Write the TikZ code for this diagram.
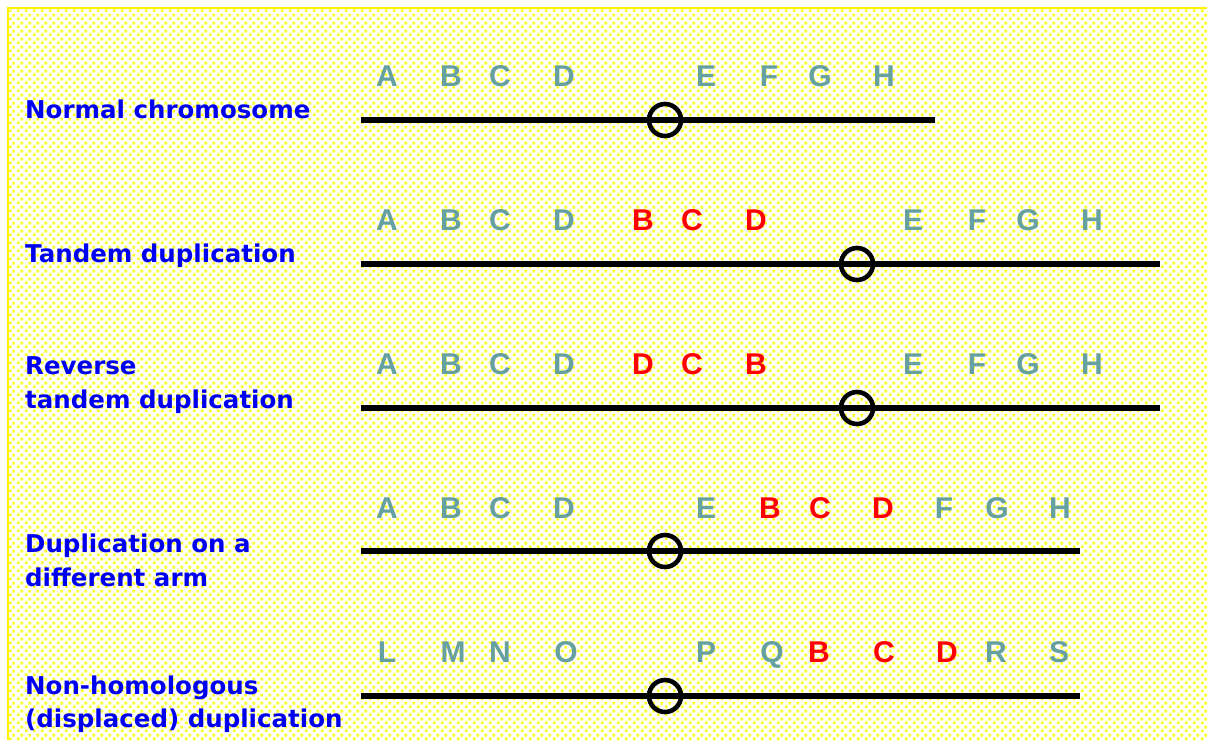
\documentclass[tikz,border=0pt]{standalone}
\usepackage{fontspec}
\usetikzlibrary{patterns}
\newfontfamily\rowfont{DejaVu Sans}
\newfontfamily\genefont{Liberation Sans}
\definecolor{genegray}{RGB}{102,160,160}
\definecolor{dupred}{RGB}{255,0,0}
\definecolor{rowblue}{RGB}{0,0,240}
\definecolor{dotyellow}{RGB}{255,255,40}
\pgfdeclarepatternformonly{paperdots}{\pgfqpoint{0pt}{0pt}}{\pgfqpoint{8pt}{8pt}}{\pgfqpoint{8pt}{8pt}}{
  \pgfpathrectangle{\pgfqpoint{1pt}{1pt}}{\pgfqpoint{3pt}{3pt}}
  \pgfpathrectangle{\pgfqpoint{5pt}{5pt}}{\pgfqpoint{3pt}{3pt}}
  \pgfusepath{fill}}
\tikzstyle{rowname}=[text=rowblue, font=\rowfont\bfseries\fontsize{24.5}{34}\selectfont, anchor=base west, inner sep=0pt]
\tikzstyle{gene}=[text=genegray, font=\genefont\bfseries\fontsize{30}{30}\selectfont, anchor=base, inner sep=0pt]
\tikzstyle{dup}=[gene, text=dupred]
\tikzstyle{arm}=[-, draw=black, line width=5.2pt]
\tikzstyle{centromere}=[draw=black, line width=4.6pt, shape=circle, minimum size=32pt, inner sep=0pt]

\begin{document}
\begin{tikzpicture}[x=1pt, y=-1pt]
    \useasboundingbox (0,0) rectangle (1207,740);
    % dotted paper
    \fill[white] (0,0) rectangle (1207,740);
    \fill[pattern=paperdots, pattern color=dotyellow] (8,8) rectangle (1207,740);
    \draw[yellow, line width=2.5pt] (8,740) -- (8,8) -- (1207,8);

    % normal chromosome
    \node [style=rowname] (lbl1) at (25, 118) {Normal chromosome};
    \node [style=gene] (nA) at (387, 86) {A};
    \node [style=gene] (nB) at (451, 86) {B};
    \node [style=gene] (nC) at (500, 86) {C};
    \node [style=gene] (nD) at (564, 86) {D};
    \node [style=gene] (nE) at (706, 86) {E};
    \node [style=gene] (nF) at (769, 86) {F};
    \node [style=gene] (nG) at (820, 86) {G};
    \node [style=gene] (nH) at (884, 86) {H};
    \coordinate (n0) at (361, 120);
    \coordinate (n9) at (935, 120);
    \draw [style=arm] (n0) to (n9);
    \node [style=centromere] (ncen) at (665, 120) {};

    % tandem duplication
    \node [style=rowname] (lbl2) at (25, 262) {Tandem duplication};
    \node [style=gene] (tA) at (387, 230) {A};
    \node [style=gene] (tB) at (451, 230) {B};
    \node [style=gene] (tC) at (500, 230) {C};
    \node [style=gene] (tD) at (564, 230) {D};
    \node [style=dup] (tB2) at (643, 230) {B};
    \node [style=dup] (tC2) at (692, 230) {C};
    \node [style=dup] (tD2) at (756, 230) {D};
    \node [style=gene] (tE) at (913, 230) {E};
    \node [style=gene] (tF) at (977, 230) {F};
    \node [style=gene] (tG) at (1028, 230) {G};
    \node [style=gene] (tH) at (1092, 230) {H};
    \coordinate (t0) at (361, 264);
    \coordinate (t9) at (1160, 264);
    \draw [style=arm] (t0) to (t9);
    \node [style=centromere] (tcen) at (857, 264) {};

    % reverse tandem duplication
    \node [style=rowname] (lbl3) at (25, 374) {Reverse};
    \node [style=rowname] (lbl3b) at (25, 408) {tandem duplication};
    \node [style=gene] (rA) at (387, 374) {A};
    \node [style=gene] (rB) at (451, 374) {B};
    \node [style=gene] (rC) at (500, 374) {C};
    \node [style=gene] (rD) at (564, 374) {D};
    \node [style=dup] (rD2) at (643, 374) {D};
    \node [style=dup] (rC2) at (692, 374) {C};
    \node [style=dup] (rB2) at (756, 374) {B};
    \node [style=gene] (rE) at (913, 374) {E};
    \node [style=gene] (rF) at (977, 374) {F};
    \node [style=gene] (rG) at (1028, 374) {G};
    \node [style=gene] (rH) at (1092, 374) {H};
    \coordinate (r0) at (361, 408);
    \coordinate (r9) at (1160, 408);
    \draw [style=arm] (r0) to (r9);
    \node [style=centromere] (rcen) at (857, 408) {};

    % duplication on the other arm
    \node [style=rowname] (lbl4) at (25, 552) {Duplication on a};
    \node [style=rowname] (lbl4b) at (25, 586) {different arm};
    \node [style=gene] (dA) at (387, 518) {A};
    \node [style=gene] (dB) at (451, 518) {B};
    \node [style=gene] (dC) at (500, 518) {C};
    \node [style=gene] (dD) at (564, 518) {D};
    \node [style=gene] (dE) at (706, 518) {E};
    \node [style=dup] (dB2) at (770, 518) {B};
    \node [style=dup] (dC2) at (820, 518) {C};
    \node [style=dup] (dD2) at (883, 518) {D};
    \node [style=gene] (dF) at (944, 518) {F};
    \node [style=gene] (dG) at (997, 518) {G};
    \node [style=gene] (dH) at (1060, 518) {H};
    \coordinate (d0) at (361, 551);
    \coordinate (d9) at (1080, 551);
    \draw [style=arm] (d0) to (d9);
    \node [style=centromere] (dcen) at (665, 551) {};

    % non-homologous duplication
    \node [style=rowname] (lbl5) at (25, 694) {Non-homologous};
    \node [style=rowname] (lbl5b) at (25, 727) {(displaced) duplication};
    \node [style=gene] (hL) at (387, 662) {L};
    \node [style=gene] (hM) at (453, 662) {M};
    \node [style=gene] (hN) at (500, 662) {N};
    \node [style=gene] (hO) at (566, 662) {O};
    \node [style=gene] (hP) at (706, 662) {P};
    \node [style=gene] (hQ) at (772, 662) {Q};
    \node [style=dup] (hB2) at (819, 662) {B};
    \node [style=dup] (hC2) at (884, 662) {C};
    \node [style=dup] (hD2) at (947, 662) {D};
    \node [style=gene] (hR) at (996, 662) {R};
    \node [style=gene] (hS) at (1059, 662) {S};
    \coordinate (h0) at (361, 696);
    \coordinate (h9) at (1080, 696);
    \draw [style=arm] (h0) to (h9);
    \node [style=centromere] (hcen) at (665, 696) {};
\end{tikzpicture}
\end{document}
